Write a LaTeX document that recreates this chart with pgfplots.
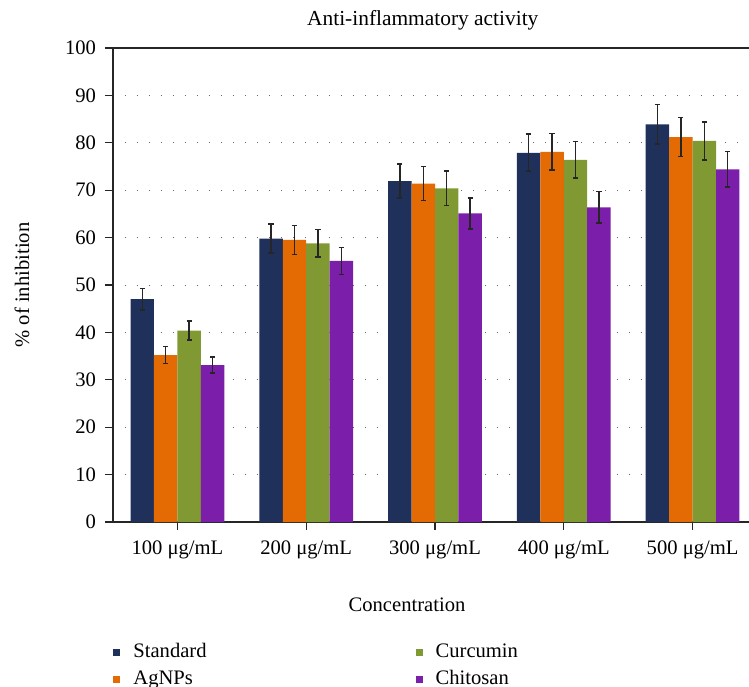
\documentclass[border=0pt]{standalone}
\usepackage{pgfplots}
\pgfplotsset{compat=1.18}
\usepackage{fontspec}
\setmainfont{Liberation Serif}
\definecolor{cnavy}{HTML}{1F315A}
\definecolor{corange}{HTML}{E46A04}
\definecolor{cgreen}{HTML}{819933}
\definecolor{cpurple}{HTML}{7B1FAB}
\begin{document}
\begin{tikzpicture}
\begin{axis}[
  scale only axis,
  width=322pt, height=237pt,
  xmin=-0.5, xmax=4.5,
  ymin=0, ymax=100,
  ytick={0,10,...,100},
  xtick={0,1,2,3,4},
  xticklabels={100 μg/mL,200 μg/mL,300 μg/mL,400 μg/mL,500 μg/mL},
  xtick pos=bottom, ytick pos=left,
  tick align=outside,
  major tick length=4pt,
  tick style={black!85, line width=0.6pt},
  axis line style={black!85, line width=0.75pt},
  ymajorgrids,
  grid style={black!60, line width=0.5pt, dash pattern=on 0.5pt off 5.5pt},
  /pgf/number format/assume math mode=true,
  font=\fontsize{10.3}{12}\selectfont,
  ticklabel style={font=\fontsize{10.3}{12}\selectfont},
  xticklabel style={yshift=-2pt},
  yticklabel style={xshift=-1pt},
  ybar=0pt,
  bar width=0.182,
  title={Anti-inflammatory activity},
  title style={at={(rel axis cs:0.481,1)}, anchor=center, yshift=8pt, font=\fontsize{10.7}{12}\selectfont},
  xlabel={Concentration},
  xlabel style={at={(rel axis cs:0.4565,0)}, anchor=center, yshift=-41.5pt},
  ylabel={\% of inhibition},
  ylabel style={at={(rel axis cs:-0.1413,0.5)}, anchor=center},
  legend columns=2,
  transpose legend,
  legend cell align=left,
  legend image code/.code={\fill[#1] (0pt,-1.75pt) rectangle (3.5pt,1.75pt);},
  legend style={at={(rel axis cs:0,0)}, anchor=north west, yshift=-59.5pt, xshift=0pt,
    draw=none, fill=none, inner sep=0pt,
    nodes={inner sep=1pt, text height=7pt, text depth=2pt},
    row sep=2.5pt,
    /tikz/column 1/.style={column sep=5.5pt},
    /tikz/column 2/.style={column sep=103.5pt},
    /tikz/column 3/.style={column sep=5.5pt},
    font=\fontsize{10.3}{12}\selectfont},
  error bars/y dir=both,
  error bars/y explicit,
  error bars/error mark options={rotate=90, mark size=1.3pt, line width=0.8pt, black!85},
  error bars/error bar style={line width=0.7pt, black!85},
]
\addplot[fill=cnavy, draw=none] coordinates {(0,47.0) +- (0,2.3) (1,59.8) +- (0,3.05) (2,71.9) +- (0,3.6) (3,77.9) +- (0,3.9) (4,83.9) +- (0,4.2)};
\addplot[fill=corange, draw=none] coordinates {(0,35.2) +- (0,1.8) (1,59.5) +- (0,3.05) (2,71.4) +- (0,3.6) (3,78.1) +- (0,3.9) (4,81.2) +- (0,4.1)};
\addplot[fill=cgreen, draw=none] coordinates {(0,40.4) +- (0,2.05) (1,58.8) +- (0,2.95) (2,70.4) +- (0,3.6) (3,76.4) +- (0,3.85) (4,80.4) +- (0,4.05)};
\addplot[fill=cpurple, draw=none] coordinates {(0,33.1) +- (0,1.7) (1,55.1) +- (0,2.85) (2,65.1) +- (0,3.3) (3,66.4) +- (0,3.35) (4,74.4) +- (0,3.75)};
\legend{Standard,AgNPs,Curcumin,Chitosan}
\coordinate (sw) at (rel axis cs:0,0);
\coordinate (ne) at (rel axis cs:1,1);
\end{axis}
\pgfresetboundingbox
\path[use as bounding box] ([xshift=-56.5pt,yshift=-82pt]sw) rectangle ([xshift=-4pt,yshift=24pt]ne);
\end{tikzpicture}
\end{document}
